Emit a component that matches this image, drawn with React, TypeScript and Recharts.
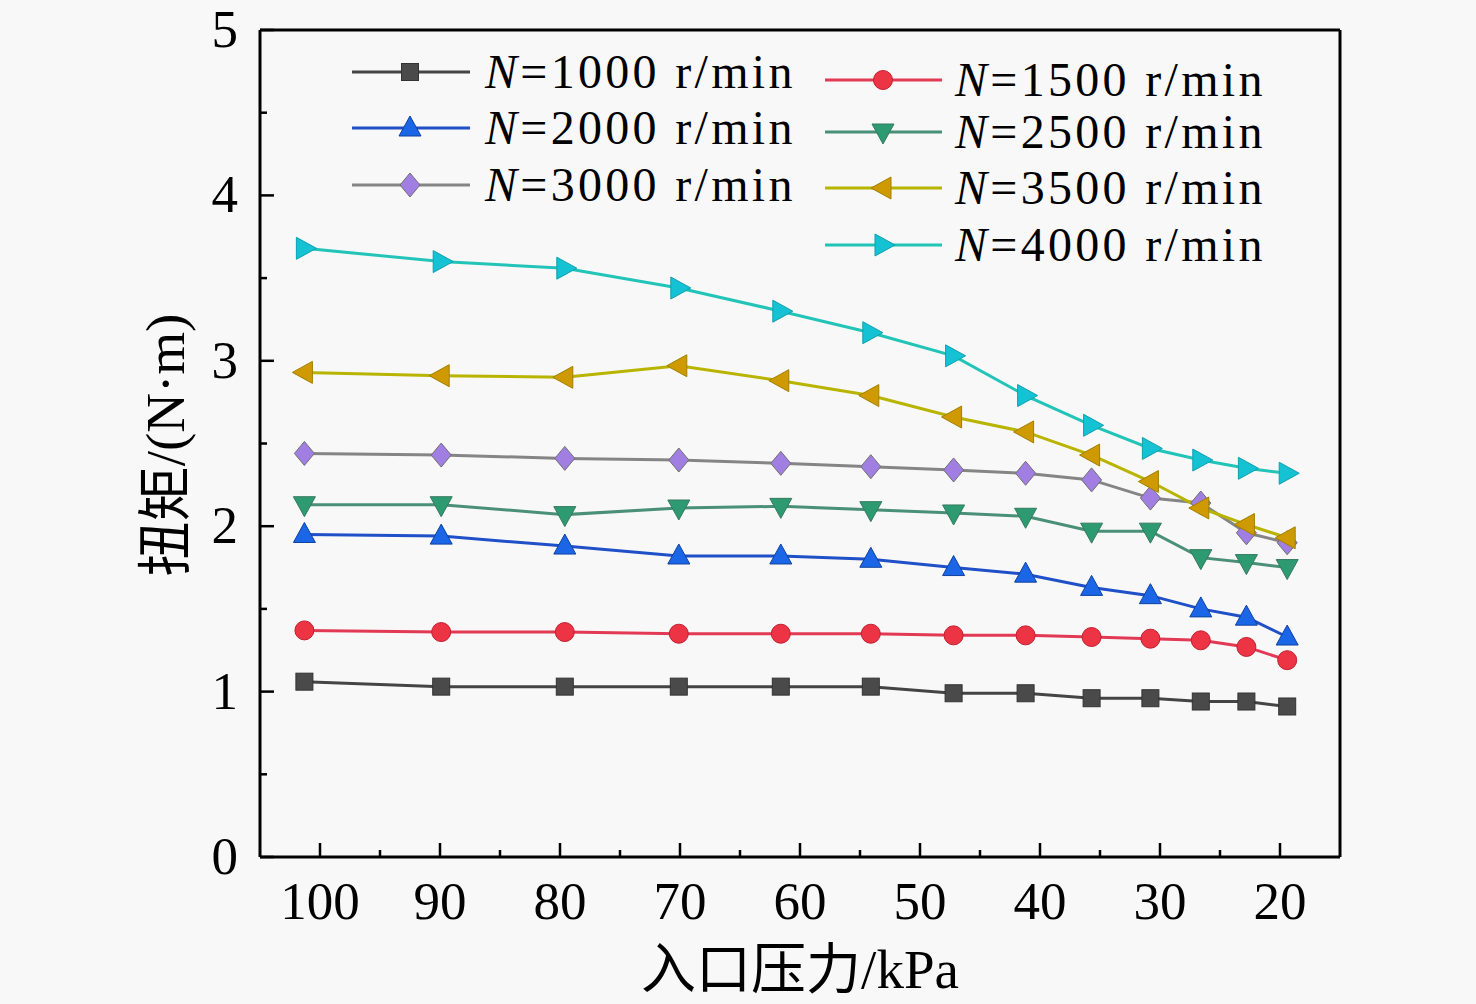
import React from 'react';
import { LineChart, Line, XAxis, YAxis, ReferenceLine, Legend } from 'recharts';

const pressure = [101.3, 89.9, 79.6, 70.1, 61.6, 54.1, 47.2, 41.2, 35.7, 30.8, 26.6, 22.8, 19.4];
const n1000 = [1.06, 1.03, 1.03, 1.03, 1.03, 1.03, 0.99, 0.99, 0.96, 0.96, 0.94, 0.94, 0.91];
const n1500 = [1.37, 1.36, 1.36, 1.35, 1.35, 1.35, 1.34, 1.34, 1.33, 1.32, 1.31, 1.27, 1.19];
const n2000 = [1.95, 1.94, 1.88, 1.82, 1.82, 1.80, 1.75, 1.71, 1.63, 1.58, 1.50, 1.45, 1.33];
const n2500 = [2.13, 2.13, 2.07, 2.11, 2.12, 2.10, 2.08, 2.06, 1.97, 1.97, 1.81, 1.78, 1.75];
const n3000 = [2.44, 2.43, 2.41, 2.40, 2.38, 2.36, 2.34, 2.32, 2.28, 2.17, 2.14, 1.96, 1.90];
const n3500 = [2.93, 2.91, 2.90, 2.97, 2.88, 2.79, 2.66, 2.57, 2.43, 2.27, 2.11, 2.01, 1.93];
const n4000 = [3.68, 3.60, 3.56, 3.44, 3.30, 3.17, 3.03, 2.79, 2.61, 2.47, 2.40, 2.35, 2.32];

const xTicks = [100, 95, 90, 85, 80, 75, 70, 65, 60, 55, 50, 45, 40, 35, 30, 25, 20];
const yTicks = [0, 0.5, 1, 1.5, 2, 2.5, 3, 3.5, 4, 4.5, 5];

const seriesNames = ['1000', '1500', '2000', '2500', '3000', '3500', '4000'];
const seriesValues = [n1000, n1500, n2000, n2500, n3000, n3500, n4000];
const seriesShapes = ['square', 'circle', 'up', 'down', 'diamond', 'left', 'right'];
const lineColors = ['#444444', '#e23a55', '#1f50c8', '#4a8f78', '#858585', '#b8b400', '#22c4b8'];
const markerColors = ['#4a4a4a', '#ec3445', '#1a66e6', '#2e9a72', '#a07ee2', '#cf9a00', '#14c2d4'];
const markerEdges = ['#333333', '#c02030', '#1040a0', '#357a60', '#707070', '#a08000', '#10a0b0'];

const data = pressure.map((p, i) => {
  const row: Record<string, number> = { p };
  seriesNames.forEach((n, k) => {
    row['n' + n] = seriesValues[k][i];
  });
  return row;
});

const FONT = "'Liberation Serif', 'Times New Roman', 'Noto Sans CJK SC', serif";

function marker(shape: string, cx: number, cy: number, fill: string, edge: string, key?: string) {
  const common = { fill, stroke: edge, strokeWidth: 1, key };
  switch (shape) {
    case 'square':
      return <rect {...common} x={cx - 8.5} y={cy - 8.5} width={17} height={17} />;
    case 'circle':
      return <circle {...common} cx={cx} cy={cy} r={9.5} />;
    case 'up':
      return <polygon {...common} points={`${cx},${cy - 12} ${cx + 11},${cy + 8} ${cx - 11},${cy + 8}`} />;
    case 'down':
      return <polygon {...common} points={`${cx},${cy + 12} ${cx + 11},${cy - 8} ${cx - 11},${cy - 8}`} />;
    case 'diamond':
      return <polygon {...common} points={`${cx},${cy - 12} ${cx + 10},${cy} ${cx},${cy + 12} ${cx - 10},${cy}`} />;
    case 'left':
      return <polygon {...common} points={`${cx - 12},${cy} ${cx + 8},${cy - 11} ${cx + 8},${cy + 11}`} />;
    case 'right':
      return <polygon {...common} points={`${cx + 12},${cy} ${cx - 8},${cy - 11} ${cx - 8},${cy + 11}`} />;
    default:
      return <circle {...common} cx={cx} cy={cy} r={8} />;
  }
}

const XTick = (props: any) => {
  const { x, y, payload } = props;
  const major = payload.value % 10 === 0;
  return (
    <g>
      <line x1={x} y1={y} x2={x} y2={y - (major ? 14 : 7)} stroke="#000" strokeWidth={2.5} />
      {major && (
        <text x={x} y={y + 62} textAnchor="middle" fontSize={53} fontFamily={FONT} fill="#000">
          {payload.value}
        </text>
      )}
    </g>
  );
};

const YTick = (props: any) => {
  const { x, y, payload } = props;
  const major = Math.abs(payload.value - Math.round(payload.value)) < 1e-6;
  return (
    <g>
      <line x1={x} y1={y} x2={x + (major ? 14 : 7)} y2={y} stroke="#000" strokeWidth={2.5} />
      {major && (
        <text x={x - 22} y={y + 17} textAnchor="end" fontSize={53} fontFamily={FONT} fill="#000">
          {payload.value}
        </text>
      )}
    </g>
  );
};

const legendLayout = [
  { col: 0, row: 72 },
  { col: 1, row: 80 },
  { col: 0, row: 128 },
  { col: 1, row: 132 },
  { col: 0, row: 185 },
  { col: 1, row: 188 },
  { col: 1, row: 245 },
];
const colX = [
  { l1: 352, l2: 470, m: 410, t: 485 },
  { l1: 825, l2: 942, m: 883, t: 955 },
];

const renderLegend = () => (
  <svg width={1476} height={300} style={{ display: 'block' }}>
    {seriesNames.map((n, k) => {
      const c = colX[legendLayout[k].col];
      const y = legendLayout[k].row;
      return (
        <g key={n}>
          <line x1={c.l1} y1={y} x2={c.l2} y2={y} stroke={lineColors[k]} strokeWidth={3} />
          {marker(seriesShapes[k], c.m, y, markerColors[k], markerEdges[k])}
          <text x={c.t} y={y + 16} fontSize={48} letterSpacing={3.3} fontFamily={FONT} fill="#000">
            <tspan fontStyle="italic">N</tspan>={n} r/min
          </text>
        </g>
      );
    })}
  </svg>
);

export default function App() {
  return (
    <div style={{ position: 'absolute', left: 0, top: 0, width: 1476, height: 1004, background: '#f8f8f8', overflow: 'hidden' }}>
      <LineChart width={1476} height={1004} data={data} margin={{ top: 30, right: 136, bottom: 0, left: 0 }}>
        <XAxis
          dataKey="p"
          type="number"
          domain={[15, 105]}
          reversed
          allowDataOverflow
          ticks={xTicks}
          interval={0}
          tick={<XTick />}
          tickLine={false}
          tickSize={0}
          tickMargin={0}
          height={147}
          axisLine={{ stroke: '#000', strokeWidth: 3 }}
          label={{
            content: () => (
              <text x={800} y={988} textAnchor="middle" fontSize={55} fontFamily={FONT} fill="#000">
                入口压力/kPa
              </text>
            ),
          }}
        />
        <YAxis
          type="number"
          domain={[0, 5]}
          allowDataOverflow
          ticks={yTicks}
          interval={0}
          tick={<YTick />}
          tickLine={false}
          tickSize={0}
          tickMargin={0}
          width={260}
          axisLine={{ stroke: '#000', strokeWidth: 3 }}
          label={{
            content: () => (
              <text
                x={165}
                y={445}
                transform="rotate(-90 165 445)"
                textAnchor="middle"
                dominantBaseline="central"
                fontSize={55}
                fontFamily={FONT}
                fill="#000"
              >
                扭矩/(N·m)
              </text>
            ),
          }}
        />
        <ReferenceLine y={5} stroke="#000" strokeWidth={3} ifOverflow="visible" />
        <ReferenceLine x={15} stroke="#000" strokeWidth={3} ifOverflow="visible" />
        <Legend
          layout="vertical"
          align="center"
          verticalAlign="middle"
          content={renderLegend}
          wrapperStyle={{ position: 'absolute', left: 0, top: 0, width: 1476, height: 300, pointerEvents: 'none' }}
        />
        {seriesNames.map((n, k) => (
          <Line
            key={n}
            dataKey={'n' + n}
            name={`N=${n} r/min`}
            stroke={lineColors[k]}
            strokeWidth={3}
            isAnimationActive={false}
            dot={(p: any) => marker(seriesShapes[k], p.cx, p.cy, markerColors[k], markerEdges[k], `${n}-${p.index}`)}
            activeDot={false}
          />
        ))}
      </LineChart>
    </div>
  );
}
